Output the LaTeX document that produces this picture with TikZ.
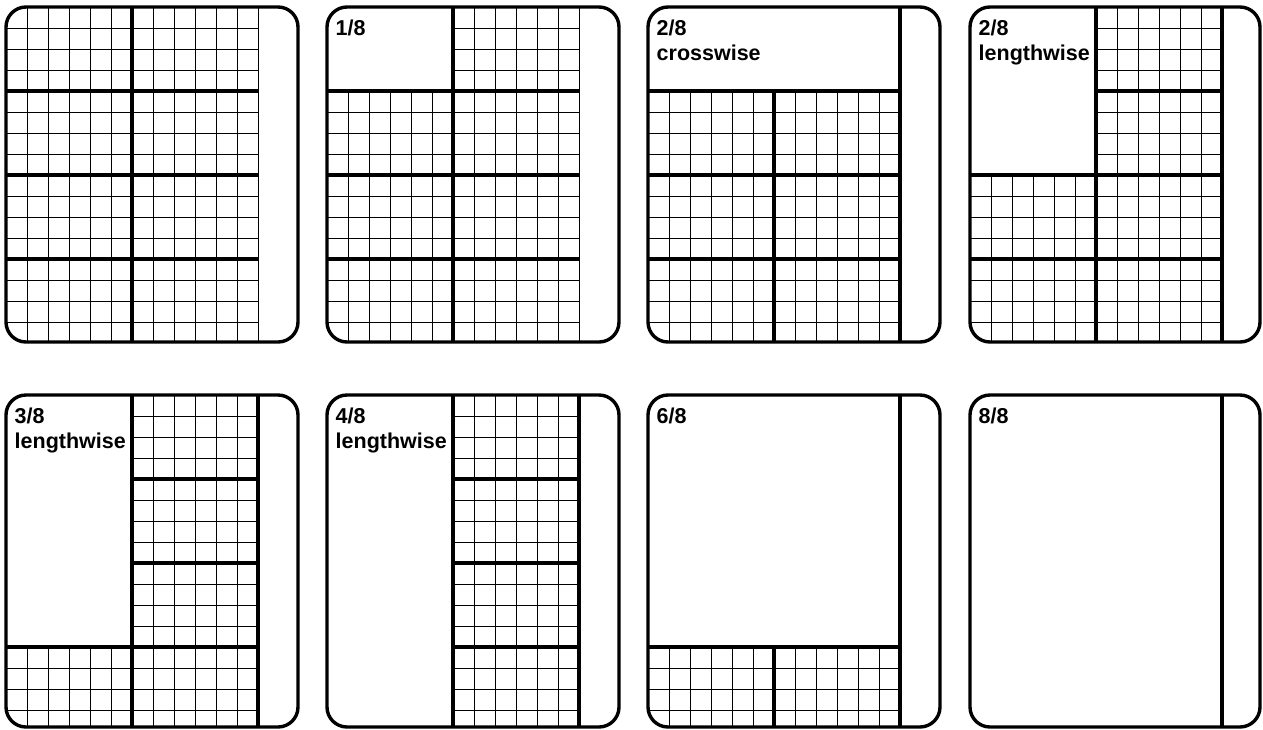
\documentclass[tikz,border=0pt]{standalone}
\usepackage{fontspec}
\setmainfont{Liberation Sans}
\tikzset{
  thinline/.style={line width=1.0pt},
  thickline/.style={line width=3.4pt},
  panelborder/.style={line width=3.4pt, rounded corners=20pt},
  lbl/.style={anchor=north west, inner sep=0pt, align=left,
    font=\fontsize{21.5}{24.6}\selectfont\bfseries},
}
\newcommand\thingrid[1]{%
  \foreach \i in {1,...,12} \draw[thinline] (\i*21,0) -- (\i*21,#1);
  \foreach \j in {1,...,15} \draw[thinline] (0,\j*21) -- (252,\j*21);
}
\begin{document}
\begin{tikzpicture}[x=1pt,y=-1pt]
\useasboundingbox (0,0) rectangle (1263,729);

% ---------- Panel 1 : full grid ----------
\begin{scope}[shift={(6,7)}]
  \begin{scope}
    \clip[rounded corners=20pt] (0,0) rectangle (292,335);
    \thingrid{335}
    \draw[thickline] (126,0) -- (126,335);
    \foreach \yy in {84,168,252} \draw[thickline] (0,\yy) -- (252,\yy);
  \end{scope}
  \draw[panelborder] (0,0) rectangle (292,335);
\end{scope}

% ---------- Panel 2 : 1/8 ----------
\begin{scope}[shift={(327,7)}]
  \begin{scope}
    \clip[rounded corners=20pt] (0,0) rectangle (292,335);
    \thingrid{335}
    \fill[white] (0,0) rectangle (126,84);
    \draw[thickline] (126,0) -- (126,335);
    \foreach \yy in {84,168,252} \draw[thickline] (0,\yy) -- (252,\yy);
  \end{scope}
  \draw[panelborder] (0,0) rectangle (292,335);
  \node[lbl] (l2) at (8.5,13) {1/8};
\end{scope}

% ---------- Panel 3 : 2/8 crosswise ----------
\begin{scope}[shift={(648,7)}]
  \begin{scope}
    \clip[rounded corners=20pt] (0,0) rectangle (292,335);
    \thingrid{335}
    \fill[white] (0,0) rectangle (252,84);
    \draw[thickline] (126,84) -- (126,335);
    \foreach \yy in {84,168,252} \draw[thickline] (0,\yy) -- (252,\yy);
    \draw[thickline] (252,0) -- (252,335);
  \end{scope}
  \draw[panelborder] (0,0) rectangle (292,335);
  \node[lbl] (l3) at (8.5,13) {2/8\\crosswise};
\end{scope}

% ---------- Panel 4 : 2/8 lengthwise ----------
\begin{scope}[shift={(970,7)}]
  \begin{scope}
    \clip[rounded corners=20pt] (0,0) rectangle (290,335);
    \thingrid{335}
    \fill[white] (0,0) rectangle (126,168);
    \draw[thickline] (126,0) -- (126,335);
    \draw[thickline] (126,84) -- (252,84);
    \foreach \yy in {168,252} \draw[thickline] (0,\yy) -- (252,\yy);
    \draw[thickline] (252,0) -- (252,335);
  \end{scope}
  \draw[panelborder] (0,0) rectangle (290,335);
  \node[lbl] (l4) at (8.5,13) {2/8\\lengthwise};
\end{scope}

% ---------- Panel 5 : 3/8 lengthwise ----------
\begin{scope}[shift={(6,395)}]
  \begin{scope}
    \clip[rounded corners=20pt] (0,0) rectangle (292,332);
    \thingrid{332}
    \fill[white] (0,0) rectangle (126,252);
    \draw[thickline] (126,0) -- (126,332);
    \foreach \yy in {84,168} \draw[thickline] (126,\yy) -- (252,\yy);
    \draw[thickline] (0,252) -- (252,252);
    \draw[thickline] (252,0) -- (252,332);
  \end{scope}
  \draw[panelborder] (0,0) rectangle (292,332);
  \node[lbl] (l5) at (8.5,13) {3/8\\lengthwise};
\end{scope}

% ---------- Panel 6 : 4/8 lengthwise ----------
\begin{scope}[shift={(327,395)}]
  \begin{scope}
    \clip[rounded corners=20pt] (0,0) rectangle (292,332);
    \thingrid{332}
    \fill[white] (0,0) rectangle (126,332);
    \draw[thickline] (126,0) -- (126,332);
    \foreach \yy in {84,168,252} \draw[thickline] (126,\yy) -- (252,\yy);
    \draw[thickline] (252,0) -- (252,332);
  \end{scope}
  \draw[panelborder] (0,0) rectangle (292,332);
  \node[lbl] (l6) at (8.5,13) {4/8\\lengthwise};
\end{scope}

% ---------- Panel 7 : 6/8 ----------
\begin{scope}[shift={(648,395)}]
  \begin{scope}
    \clip[rounded corners=20pt] (0,0) rectangle (292,332);
    \thingrid{332}
    \fill[white] (0,0) rectangle (252,252);
    \draw[thickline] (126,252) -- (126,332);
    \draw[thickline] (0,252) -- (252,252);
    \draw[thickline] (252,0) -- (252,332);
  \end{scope}
  \draw[panelborder] (0,0) rectangle (292,332);
  \node[lbl] (l7) at (8.5,13) {6/8};
\end{scope}

% ---------- Panel 8 : 8/8 ----------
\begin{scope}[shift={(970,395)}]
  \begin{scope}
    \clip[rounded corners=20pt] (0,0) rectangle (290,332);
    \draw[thickline] (252,0) -- (252,332);
  \end{scope}
  \draw[panelborder] (0,0) rectangle (290,332);
  \node[lbl] (l8) at (8.5,13) {8/8};
\end{scope}
\end{tikzpicture}
\end{document}
